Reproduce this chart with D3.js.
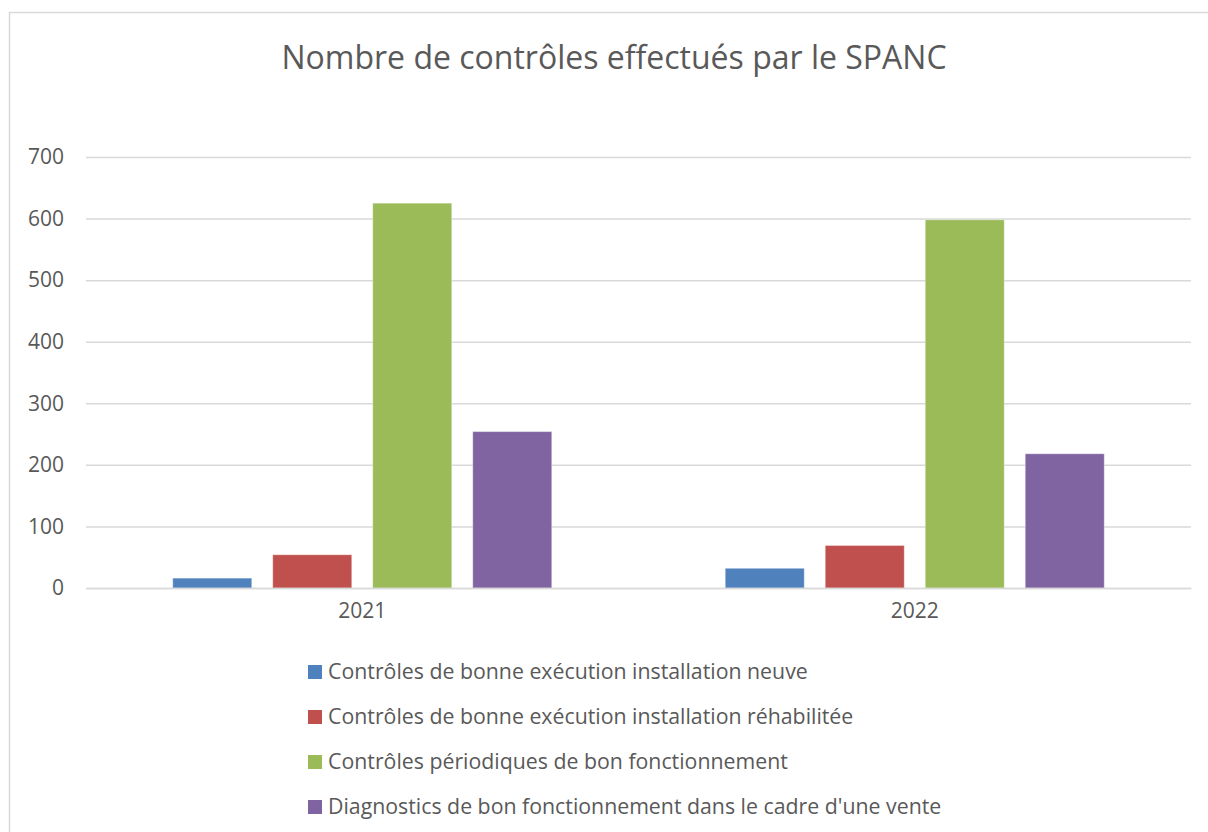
<!DOCTYPE html>
<html>
<head>
<meta charset="utf-8">
<script src="https://cdn.jsdelivr.net/npm/d3@7"></script>
<style>
  body { margin: 0; background: #fff; }
  text { font-family: "Open Sans", "Noto Sans", sans-serif; fill: #595959; }
</style>
</head>
<body>
<div id="chart"></div>
<script>
// data
var years = ["2021", "2022"];
var series = [
  "Contrôles de bonne exécution installation neuve",
  "Contrôles de bonne exécution installation réhabilitée",
  "Contrôles périodiques de bon fonctionnement",
  "Diagnostics de bon fonctionnement dans le cadre d'une vente"
];
var neuve = [16, 32];
var rehabilitee = [54, 69];
var periodiques = [625, 598];
var ventes = [254, 218];
var colors = ["#4F81BD", "#C0504D", "#9BBB59", "#8064A2"];
var yTicks = [0, 100, 200, 300, 400, 500, 600, 700];
var title = "Nombre de contrôles effectués par le SPANC";

var width = 1208, height = 832;
var margin = {top: 157, right: 17, bottom: 244, left: 86};
var innerW = width - margin.left - margin.right;
var innerH = height - margin.top - margin.bottom;

var values = [neuve, rehabilitee, periodiques, ventes];
var data = [];
years.forEach(function (yr, i) {
    series.forEach(function (s, j) {
        data.push({year: yr, serie: s, idx: j, value: values[j][i]});
    });
});

var svg = d3.select("#chart")
    .append("svg")
    .attr("width", width)
    .attr("height", height);

// outer frame
svg.append("rect")
    .attr("x", 9.5)
    .attr("y", 12.5)
    .attr("width", width + 20)
    .attr("height", height + 20)
    .attr("fill", "none")
    .attr("stroke", "#D9D9D9")
    .attr("stroke-width", 1.5);

svg.append("text")
    .attr("x", 614)
    .attr("y", 69)
    .attr("text-anchor", "middle")
    .style("font-size", "32px")
    .text(title);

var g = svg.append("g")
    .attr("transform", "translate(" + margin.left + "," + margin.top + ")");

var x0 = d3.scaleBand()
    .domain(years)
    .range([0, innerW])
    .padding(0);

var x1 = d3.scaleBand()
    .domain(series)
    .range([0, x0.bandwidth()])
    .paddingInner(0.21)
    .paddingOuter(0.8675);

var y = d3.scaleLinear()
    .domain([0, 700])
    .range([innerH, 0]);

// gridlines
g.append("g")
    .call(d3.axisLeft(y).tickValues(yTicks).tickFormat("").tickSize(-innerW))
    .call(function (a) { a.select(".domain").remove(); })
    .selectAll("line")
    .attr("stroke", "#D9D9D9")
    .attr("stroke-width", 1.5);

// y labels
g.append("g")
    .call(d3.axisLeft(y).tickValues(yTicks).tickSize(0).tickPadding(22))
    .call(function (a) { a.select(".domain").remove(); })
    .selectAll("text")
    .style("font-size", "21px")
    .attr("fill", "#595959");

// bars
g.selectAll("rect.bar")
    .data(data)
    .enter()
    .append("rect")
    .attr("class", "bar")
    .attr("x", function (d) { return x0(d.year) + x1(d.serie); })
    .attr("y", function (d) { return y(d.value); })
    .attr("width", x1.bandwidth())
    .attr("height", function (d) { return innerH - y(d.value); })
    .attr("fill", function (d) { return colors[d.idx]; })
    .attr("stroke", "#ffffff")
    .attr("stroke-opacity", 0.35)
    .attr("stroke-width", 1);

// x axis
g.append("g")
    .attr("transform", "translate(0," + innerH + ")")
    .call(d3.axisBottom(x0).tickSize(0).tickPadding(15))
    .call(function (a) {
        a.select(".domain").attr("stroke", "#D9D9D9").attr("stroke-width", 1.5);
    })
    .selectAll("text")
    .style("font-size", "21px")
    .attr("fill", "#595959");

// legend
var legend = svg.append("g")
    .attr("transform", "translate(308,672)");

var item = legend.selectAll("g")
    .data(series)
    .enter()
    .append("g")
    .attr("transform", function (d, i) { return "translate(0," + (i * 45) + ")"; });

item.append("rect")
    .attr("x", 0)
    .attr("y", -7)
    .attr("width", 14)
    .attr("height", 14)
    .attr("fill", function (d, i) { return colors[i]; });

item.append("text")
    .attr("x", 20)
    .attr("y", 0)
    .attr("dy", "0.35em")
    .style("font-size", "21.3px")
    .text(function (d) { return d; });
</script>
</body>
</html>
